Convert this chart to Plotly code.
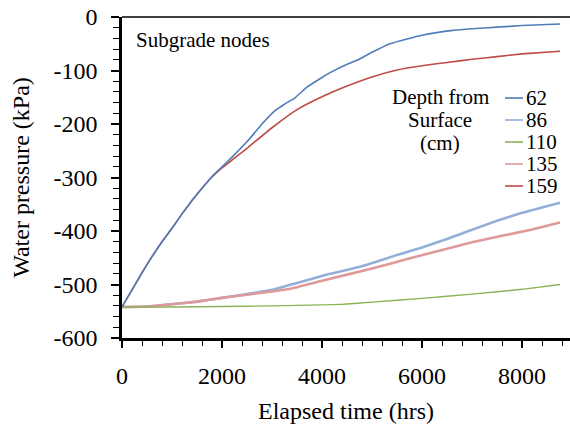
import plotly.graph_objects as go

# Elapsed time (hrs) and water pressure (kPa) for each subgrade node depth
depths = ["62", "86", "110", "135", "159"]
colors = ["#4F7DBA", "#93AFD8", "#8DB356", "#DE9A9A", "#BE4B48"]
widths = [1.6, 2.6, 1.4, 2.6, 1.6]

t_62 = [0, 200, 400, 600, 800, 1000, 1200, 1400, 1600, 1800, 2000, 2200, 2530, 2800,
        3060, 3250, 3460, 3700, 4000, 4160, 4460, 4700, 5000, 5360, 5700, 6000, 6620,
        7000, 7500, 8000, 8760]
p_62 = [-542, -510, -478, -448, -420, -395, -368, -343, -320, -298, -280, -262, -230, -200,
        -175, -163, -151, -131, -113, -104, -90, -81, -66, -50, -41, -34, -25,
        -22, -19, -16, -13]

t_159 = [0, 200, 400, 600, 800, 1000, 1200, 1400, 1600, 1800, 2000, 2250, 2530, 3000,
         3500, 4000, 4500, 5000, 5500, 6000, 6500, 7000, 7500, 8000, 8760]
p_159 = [-542, -510, -478, -448, -420, -395, -368, -343, -320, -299, -282, -264, -243, -207,
         -173, -149, -129, -112, -99, -91, -85, -79, -74, -69, -64]

t_86 = [0, 500, 1000, 1500, 2000, 2500, 3000, 3500, 4000, 4760, 5500, 6000, 6500,
        6960, 7500, 8000, 8760]
p_86 = [-542, -541, -537, -532, -525, -518, -510, -497, -484, -467, -445, -431, -415,
        -399, -381, -366, -347]

t_135 = [0, 500, 1000, 1500, 2000, 2500, 3000, 3360, 4000, 5000, 5760, 6500, 7000,
         7600, 8160, 8760]
p_135 = [-542, -541, -537, -532, -525, -519, -513, -508, -493, -470, -451, -433, -421,
         -409, -398, -384]

t_110 = [0, 1000, 2000, 3000, 4000, 4420, 5000, 6000, 7000, 8000, 8760]
p_110 = [-542, -542, -541, -540, -538, -537, -533, -526, -518, -509, -500]

series = {
    "62": (t_62, p_62),
    "86": (t_86, p_86),
    "110": (t_110, p_110),
    "135": (t_135, p_135),
    "159": (t_159, p_159),
}

# axis tick values and labels (plain hyphen minus)
x_ticks = [0, 2000, 4000, 6000, 8000]
x_labels = ["0", "2000", "4000", "6000", "8000"]
y_ticks = [0, -100, -200, -300, -400, -500, -600]
y_labels = ["0", "-100", "-200", "-300", "-400", "-500", "-600"]

legend_title = ["Depth from", "Surface", "(cm)"]

FONT = "Times New Roman, Liberation Serif, serif"

fig = go.Figure()
# draw order: thin lines on top of the thick light ones
for name in ["86", "135", "110", "159", "62"]:
    i = depths.index(name)
    t, p = series[name]
    fig.add_trace(go.Scatter(
        x=t, y=p, mode="lines", name=name, showlegend=False,
        line=dict(color=colors[i], width=widths[i], shape="spline", smoothing=0.3),
    ))

# hand-built legend with short line samples
legend_x0, legend_x1 = 383, 401   # pixels from plot left
row_y0, row_dy = 81, 22           # pixels from plot top
plot_w, plot_h = 448, 321
shapes = []
annotations = []
for i, name in enumerate(depths):
    yp = 1 - (row_y0 + i * row_dy) / plot_h
    shapes.append(dict(type="line", xref="paper", yref="paper",
                       x0=legend_x0 / plot_w, x1=legend_x1 / plot_w, y0=yp, y1=yp,
                       line=dict(color=colors[i], width=1.6)))
    annotations.append(dict(xref="paper", yref="paper", x=(legend_x1 + 1) / plot_w, y=yp,
                            text=name, showarrow=False, xanchor="left", yanchor="middle",
                            font=dict(family=FONT, size=21, color="#000")))

for j, line in enumerate(legend_title):
    annotations.append(dict(xref="paper", yref="paper", x=318 / plot_w,
                            y=1 - (80 + 23 * j) / plot_h,
                            text=line, showarrow=False,
                            xanchor="center", yanchor="middle",
                            font=dict(family=FONT, size=21, color="#000")))
annotations.append(dict(xref="paper", yref="paper", x=12 / plot_w, y=1 - 23 / plot_h,
                        text="Subgrade nodes", showarrow=False,
                        xanchor="left", yanchor="middle",
                        font=dict(family=FONT, size=21, color="#000")))

# top border line at 0 kPa
shapes.append(dict(type="line", xref="paper", yref="paper", x0=0, x1=1, y0=1, y1=1,
                   line=dict(color="#000", width=1.5)))

fig.update_layout(
    template="none",
    width=570, height=430,
    margin=dict(l=122, r=0, t=17, b=92),
    paper_bgcolor="white", plot_bgcolor="white",
    font=dict(family=FONT, color="#000"),
    shapes=shapes, annotations=annotations,
    xaxis=dict(
        range=[0, 8960], tickmode="array", tickvals=x_ticks, ticktext=x_labels,
        showgrid=False, zeroline=False,
        showline=True, linecolor="#000", linewidth=2.5,
        ticks="outside", ticklen=7, tickwidth=1.5, tickcolor="#000",
        ticklabelstandoff=7,
        minor=dict(dtick=400, tick0=0, ticks="outside", ticklen=5, tickwidth=1.2,
                   tickcolor="#000", showgrid=False),
        tickfont=dict(family=FONT, size=24, color="#000"),
        title=dict(text="Elapsed time (hrs)", font=dict(family=FONT, size=24, color="#000"),
                   standoff=15),
    ),
    yaxis=dict(
        range=[-600, 0], tickmode="array", tickvals=y_ticks, ticktext=y_labels,
        showgrid=False, zeroline=False,
        showline=True, linecolor="#000", linewidth=2.5,
        ticks="outside", ticklen=8, tickwidth=1.5, tickcolor="#000",
        ticklabelstandoff=9,
        minor=dict(dtick=20, tick0=0, ticks="outside", ticklen=6, tickwidth=1.2,
                   tickcolor="#000", showgrid=False),
        tickfont=dict(family=FONT, size=24, color="#000"),
        title=dict(text="Water pressure (kPa)", font=dict(family=FONT, size=24, color="#000"),
                   standoff=18),
    ),
)

fig.write_html("out.html")
